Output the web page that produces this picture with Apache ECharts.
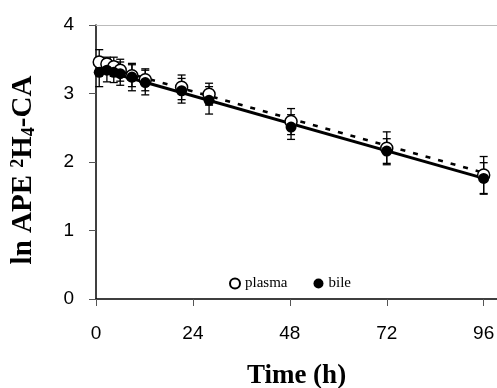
<!DOCTYPE html>
<html>
<head>
<meta charset="utf-8">
<script src="https://cdn.jsdelivr.net/npm/echarts@6/dist/echarts.min.js"></script>
<style>
  html, body { margin: 0; padding: 0; background: #fff; }
  #chart { width: 497px; height: 388px; }
</style>
</head>
<body>
<div id="chart"></div>
<script>
// sampling times (h)
const times = [0.8, 2.7, 4.4, 6, 8.9, 12.2, 21.2, 28, 48.3, 72, 96];
// ln APE, mean and SD
const plasma = [3.46, 3.43, 3.39, 3.34, 3.26, 3.20, 3.09, 2.99, 2.59, 2.20, 1.81];
const plasmaSd = [0.18, 0.10, 0.14, 0.16, 0.16, 0.16, 0.18, 0.16, 0.19, 0.24, 0.27];
const bile = [3.31, 3.34, 3.31, 3.29, 3.24, 3.16, 3.04, 2.90, 2.51, 2.16, 1.76];
const bileSd = [0.21, 0.17, 0.15, 0.17, 0.20, 0.18, 0.18, 0.20, 0.18, 0.18, 0.23];
// regression lines
const fitTimes = [1, 95];
const plasmaFit = [3.41, 1.86];
const bileFit = [3.35, 1.78];
const xTicks = [0, 24, 48, 72, 96];

const chart = echarts.init(document.getElementById('chart'));

function pairs(xs, ys) {
  return xs.map((x, i) => [x, ys[i]]);
}

function errorBars(means, sds) {
  return {
    type: 'custom',
    silent: true,
    z: 1,
    data: times.map((t, i) => [t, means[i] - sds[i], means[i] + sds[i]]),
    renderItem: function (params, api) {
      const lo = api.coord([api.value(0), api.value(1)]);
      const hi = api.coord([api.value(0), api.value(2)]);
      const w = 4;
      const style = { stroke: '#000', lineWidth: 1.3 };
      return {
        type: 'group',
        children: [
          { type: 'line', shape: { x1: lo[0], y1: lo[1], x2: hi[0], y2: hi[1] }, style: style },
          { type: 'line', shape: { x1: lo[0] - w, y1: lo[1], x2: lo[0] + w, y2: lo[1] }, style: style },
          { type: 'line', shape: { x1: hi[0] - w, y1: hi[1], x2: hi[0] + w, y2: hi[1] }, style: style }
        ]
      };
    }
  };
}

const option = {
  animation: false,
  grid: { left: 96, right: 0, top: 25, bottom: 89, outerBoundsMode: 'none', containLabel: false },
  legend: {
    left: 224,
    top: 271,
    itemWidth: 10,
    itemHeight: 10,
    itemGap: 26,
    textStyle: { fontFamily: 'Liberation Serif', fontSize: 15, color: '#000' },
    data: ['plasma', 'bile']
  },
  xAxis: [
    {
      type: 'value',
      min: 0,
      max: 99.3,
      interval: 24,
      name: 'Time (h)',
      nameLocation: 'middle',
      nameGap: 64,
      nameTextStyle: { fontFamily: 'Liberation Serif', fontWeight: 'bold', fontSize: 27, color: '#000' },
      axisLine: { lineStyle: { color: '#000', width: 1.5 } },
      axisTick: { length: 7, lineStyle: { color: '#555' } },
      axisLabel: {
        margin: 25,
        fontFamily: 'Liberation Sans',
        fontSize: 19,
        color: '#000',
        showMaxLabel: false,
        formatter: v => (xTicks.includes(v) ? String(v) : '')
      },
      splitLine: { show: false }
    },
    {
      type: 'value',
      position: 'top',
      min: 0,
      max: 99.3,
      axisLine: { lineStyle: { color: '#bbb', width: 1 } },
      axisTick: { show: false },
      axisLabel: { show: false },
      splitLine: { show: false }
    }
  ],
  yAxis: {
    type: 'value',
    min: 0,
    max: 4,
    interval: 1,
    name: '{n|ln APE }{sup|2}{n|H}{sub|4}{n|-CA}',
    nameLocation: 'middle',
    nameGap: 58,
    nameRotate: 90,
    nameTextStyle: {
      padding: [0, 16, 0, 0],
      rich: {
        n: { fontFamily: 'Liberation Serif', fontWeight: 'bold', fontSize: 29, color: '#000' },
        sup: { fontFamily: 'Liberation Serif', fontWeight: 'bold', fontSize: 18, color: '#000', verticalAlign: 'top', padding: [0, 0, 10, 0] },
        sub: { fontFamily: 'Liberation Serif', fontWeight: 'bold', fontSize: 18, color: '#000', verticalAlign: 'bottom', padding: [10, 0, 0, 0] }
      }
    },
    axisLine: { show: true, lineStyle: { color: '#000', width: 1.5 } },
    axisTick: { show: true, length: 7, lineStyle: { color: '#555' } },
    axisLabel: { margin: 22, fontFamily: 'Liberation Sans', fontSize: 19, color: '#000' },
    splitLine: { show: false }
  },
  series: [
    errorBars(plasma, plasmaSd),
    errorBars(bile, bileSd),
    {
      type: 'line',
      silent: true,
      z: 2,
      symbol: 'none',
      data: pairs(fitTimes, plasmaFit),
      lineStyle: { color: '#000', width: 2.5, type: [5, 8] }
    },
    {
      type: 'line',
      silent: true,
      z: 2,
      symbol: 'none',
      data: pairs(fitTimes, bileFit),
      lineStyle: { color: '#000', width: 3, type: 'solid' }
    },
    {
      name: 'plasma',
      type: 'scatter',
      z: 3,
      symbol: 'circle',
      symbolSize: 12,
      data: pairs(times, plasma),
      itemStyle: { color: '#fff', borderColor: '#000', borderWidth: 1.5, opacity: 1 }
    },
    {
      name: 'bile',
      type: 'scatter',
      z: 4,
      symbol: 'circle',
      symbolSize: 11,
      data: pairs(times, bile),
      itemStyle: { color: '#000', opacity: 1 }
    }
  ]
};

chart.setOption(option);
</script>
</body>
</html>
